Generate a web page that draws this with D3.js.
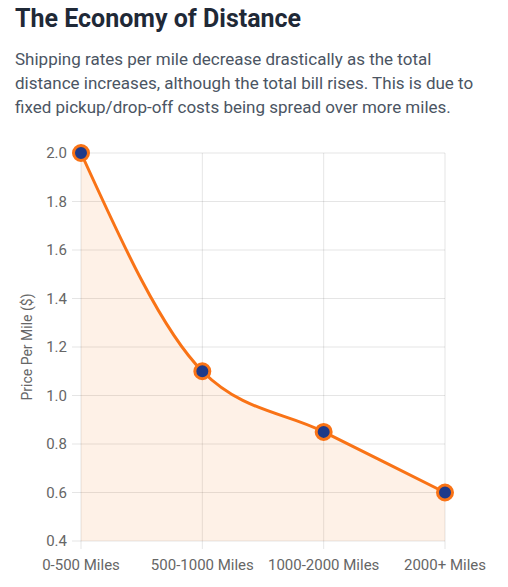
<!DOCTYPE html>
<html>
<head>
<meta charset="utf-8">
<script src="https://cdn.jsdelivr.net/npm/d3@7"></script>
<style>
  html, body { margin: 0; padding: 0; background: #fff; }
  svg { display: block; font-family: Roboto, "Noto Sans", sans-serif; }
</style>
</head>
<body>
<svg id="chart" width="508" height="587"></svg>
<script>
// data
var categories = ["0-500 Miles", "500-1000 Miles", "1000-2000 Miles", "2000+ Miles"];
var pricePerMile = [2.0, 1.1, 0.85, 0.6];
var yTicks = [0.4, 0.6, 0.8, 1.0, 1.2, 1.4, 1.6, 1.8, 2.0];

var titleText = "The Economy of Distance";
var subtitleLines = [
    "Shipping rates per mile decrease drastically as the total",
    "distance increases, although the total bill rises. This is due to",
    "fixed pickup/drop-off costs being spread over more miles."
];
var yLabel = "Price Per Mile ($)";

var plot = { left: 81, right: 445, top: 153, bottom: 541 };

var svg = d3.select("#chart");

svg.append("text").attr("x", 15).attr("y", 27)
    .attr("font-size", 25).attr("font-weight", 700).attr("fill", "#1f2937")
    .text(titleText);

svg.append("g").selectAll("text").data(subtitleLines).enter().append("text")
    .attr("x", 15).attr("y", function (d, i) { return 65 + i * 24; })
    .attr("font-size", 17).attr("fill", "#4b5563")
    .text(String);

var x = d3.scalePoint().domain(categories).range([plot.left, plot.right]);
var y = d3.scaleLinear().domain([0.4, 2.0]).range([plot.bottom, plot.top]);

var data = categories.map(function (c, i) { return { cat: c, v: pricePerMile[i] }; });

// grid
var gridColor = "rgba(0,0,0,0.1)";
svg.append("g").selectAll("line").data(yTicks).enter().append("line")
    .attr("x1", plot.left - 9).attr("x2", plot.right)
    .attr("y1", function (d) { return y(d); }).attr("y2", function (d) { return y(d); })
    .attr("stroke", gridColor).attr("stroke-width", 1);
svg.append("g").selectAll("line").data(categories).enter().append("line")
    .attr("x1", function (d) { return x(d); }).attr("x2", function (d) { return x(d); })
    .attr("y1", plot.top).attr("y2", plot.bottom + 8)
    .attr("stroke", gridColor).attr("stroke-width", 1);

// tick labels
svg.append("g").selectAll("text").data(yTicks).enter().append("text")
    .attr("x", plot.left - 14).attr("y", function (d) { return y(d); })
    .attr("dy", "0.35em").attr("text-anchor", "end")
    .attr("font-size", 15).attr("fill", "#666")
    .text(d3.format(".1f"));
svg.append("g").selectAll("text").data(categories).enter().append("text")
    .attr("x", function (d) { return x(d); }).attr("y", plot.bottom + 29)
    .attr("text-anchor", "middle")
    .attr("font-size", 15).attr("fill", "#666")
    .text(String);

svg.append("text")
    .attr("transform", "translate(32," + ((plot.top + plot.bottom) / 2) + ") rotate(-90)")
    .attr("text-anchor", "middle")
    .attr("font-size", 14).attr("fill", "#666")
    .text(yLabel);

// area + line (monotone, like chart.js cubicInterpolationMode 'monotone')
var area = d3.area().curve(d3.curveMonotoneX)
    .x(function (d) { return x(d.cat); })
    .y0(plot.bottom)
    .y1(function (d) { return y(d.v); });
var line = d3.line().curve(d3.curveMonotoneX)
    .x(function (d) { return x(d.cat); })
    .y(function (d) { return y(d.v); });

svg.append("path").datum(data).attr("d", area)
    .attr("fill", "rgba(249,115,22,0.1)");
svg.append("path").datum(data).attr("d", line)
    .attr("fill", "none").attr("stroke", "#f97316").attr("stroke-width", 3);

svg.append("g").selectAll("circle").data(data).enter().append("circle")
    .attr("cx", function (d) { return x(d.cat); })
    .attr("cy", function (d) { return y(d.v); })
    .attr("r", 7.5)
    .attr("fill", "#1e3a8a").attr("stroke", "#f97316").attr("stroke-width", 3);
</script>
</body>
</html>
